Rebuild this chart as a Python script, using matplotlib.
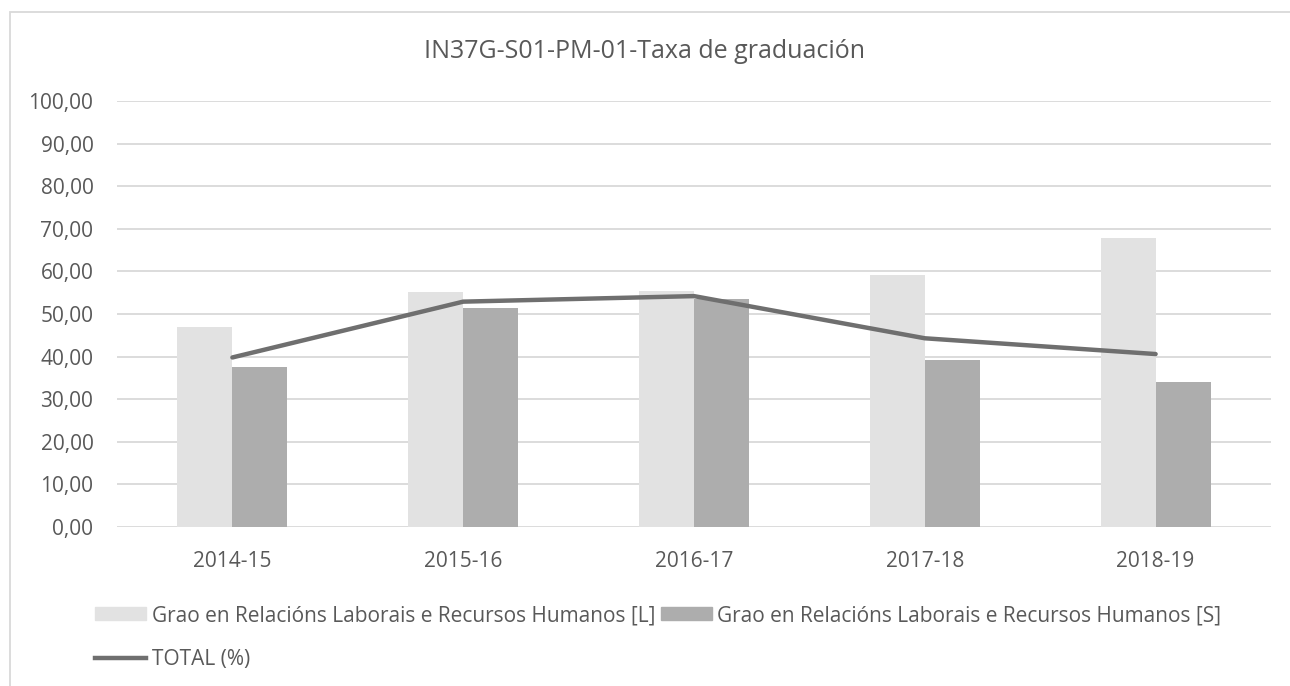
import numpy as np
import matplotlib.pyplot as plt
from matplotlib.patches import Rectangle
from matplotlib.lines import Line2D

plt.rcParams['font.family'] = ['Open Sans', 'DejaVu Sans']

years = ['2014-15', '2015-16', '2016-17', '2017-18', '2018-19']
grao_l = [47.0, 55.1, 55.3, 59.2, 67.9]
grao_s = [37.5, 51.4, 53.6, 39.1, 34.1]
total = [39.8, 52.9, 54.2, 44.3, 40.6]

label_l = 'Grao en Relacións Laborais e Recursos Humanos [L]'
label_s = 'Grao en Relacións Laborais e Recursos Humanos [S]'
label_t = 'TOTAL (%)'

text_col = '#595959'
grid_col = '#d9d9d9'

fig = plt.figure(figsize=(12.9, 6.86), dpi=100)
ax = fig.add_axes([117 / 1290, 1 - 527 / 686, 1154 / 1290, 426 / 686])

x = np.arange(len(years))
w = 0.238
ax.bar(x - w / 2, grao_l, w, color='#e2e2e2', label=label_l, zorder=2)
ax.bar(x + w / 2, grao_s, w, color='#adadad', label=label_s, zorder=2)
ax.plot(x, total, color='#6f6f6f', lw=3.2, solid_capstyle='round',
        solid_joinstyle='round', label=label_t, zorder=3)

ax.set_xlim(-0.5, len(years) - 0.5)
ax.set_ylim(0, 100)
ax.set_yticks(np.arange(0, 101, 10))
ax.set_yticklabels([f'{v:.2f}'.replace('.', ',') for v in np.arange(0, 101, 10)])
ax.set_xticks(x)
ax.set_xticklabels(years)
ax.tick_params(length=0, labelsize=15, colors=text_col)
ax.tick_params(axis='y', pad=17)
ax.tick_params(axis='x', pad=17)
ax.grid(axis='y', color=grid_col, lw=1.3, zorder=0)
for s in ax.spines.values():
    s.set_visible(False)

fig.text(0.5, 1 - 52 / 686, 'IN37G-S01-PM-01-Taxa de graduación',
         ha='center', va='center', fontsize=18, color=text_col)

# chart border
fig.patches.append(Rectangle((10 / 1290, -0.1), 1.2, 1 - 12 / 686 + 0.1,
                             transform=fig.transFigure, fill=False,
                             edgecolor='#d9d9d9', lw=1.3))

h_l = Rectangle((0, 0), 1, 1, color='#e2e2e2')
h_s = Rectangle((0, 0), 1, 1, color='#adadad')
h_t = Line2D([0], [0], color='#6f6f6f', lw=3.2)
leg = fig.legend([h_l, h_t, h_s], [label_l, label_t, label_s], ncol=2,
                 loc='upper left', bbox_to_anchor=(87 / 1290, 1 - 597 / 686),
                 frameon=False, fontsize=15, labelcolor=text_col,
                 handlelength=2.45, handleheight=0.58, handletextpad=0.25,
                 columnspacing=0.3, labelspacing=1.1, borderaxespad=0)

fig.savefig('out.png', dpi=100)
